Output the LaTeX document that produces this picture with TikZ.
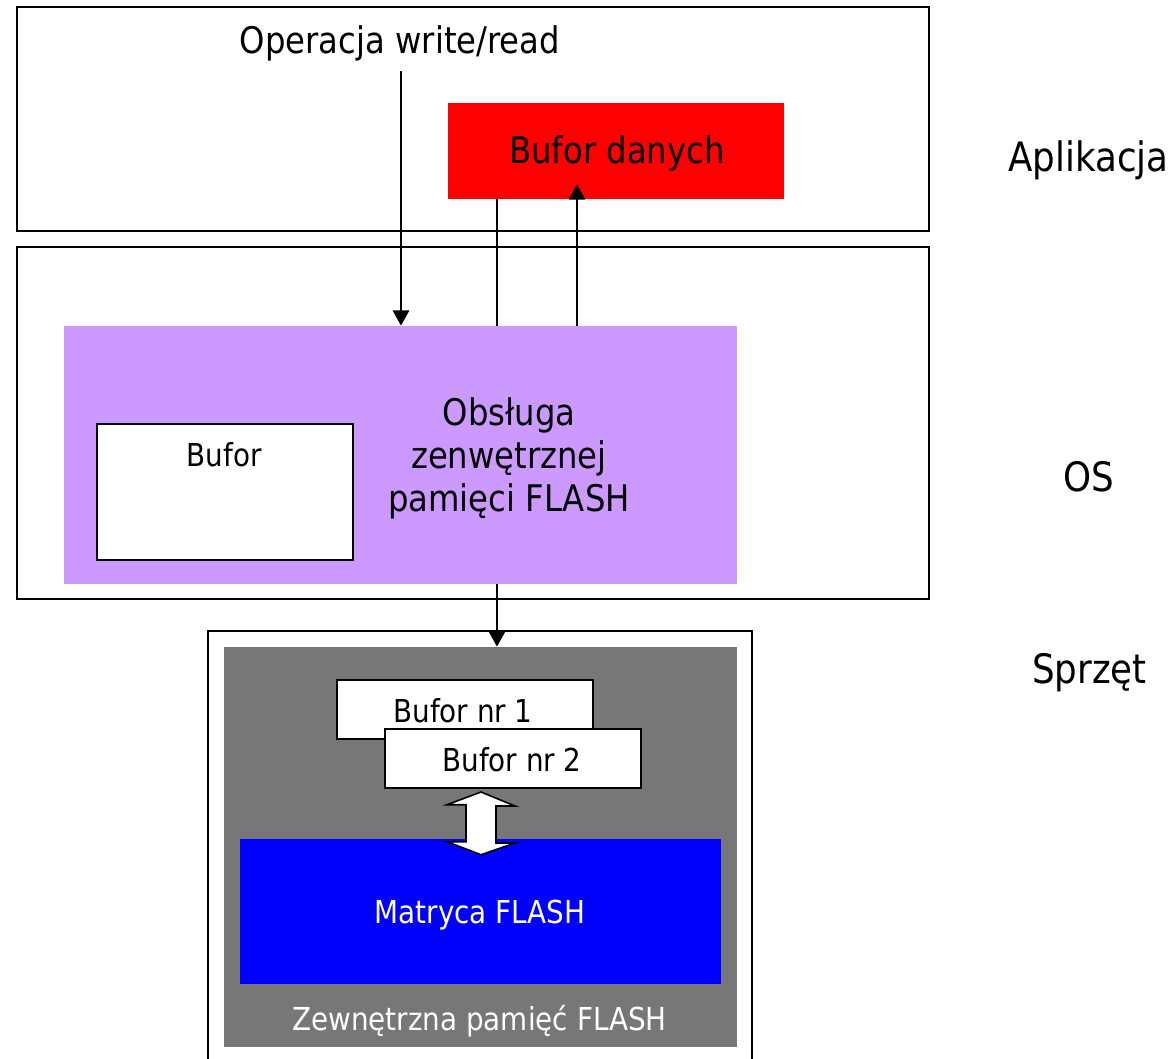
\documentclass[tikz,border=0pt]{standalone}
\usepackage{fontspec}
\setmainfont{DejaVu Sans}[FakeStretch=0.88]
\usetikzlibrary{fit,arrows.meta,calc}
\definecolor{osviolet}{HTML}{CC99FF}
\definecolor{devgray}{HTML}{777777}
\definecolor{appred}{HTML}{FF0000}
\definecolor{flashblue}{HTML}{0000FF}
\tikzset{
  panel/.style={draw=black, line width=1.4pt, inner sep=0pt, fill=white},
  area/.style={inner sep=0pt, draw=none},
  bufbox/.style={draw=black, line width=1.5pt, fill=white, inner sep=0pt},
  lbl/.style={inner sep=0pt, anchor=base, align=center},
  fmain/.style={font=\fontsize{27.5}{31.9}\selectfont},
  fbig/.style={font=\fontsize{30.4}{36}\selectfont},
  fsmall/.style={font=\fontsize{23.7}{28}\selectfont},
  arr/.style={line width=2.2pt, -{Triangle[length=11.5pt,width=12pt]}},
  conn/.style={line width=2.2pt},
  fat/.style={draw=black, line width=1.2pt, fill=white, line join=miter}
}
\begin{document}
\begin{tikzpicture}[x=0.75pt, y=-0.75pt]
\useasboundingbox (0,0) rectangle (1175,1059);

% layer frames
\node[panel, fit={(17,7) (929,231)}] (app) {};
\node[panel, fit={(17,247) (929,599)}] (os) {};
\node[panel, fit={(208,631) (752,1075)}] (hw) {};

% application layer
\node[area, fill=appred, fit={(448,103) (784,199)}] (red) {};
\node[lbl, fmain] (redtxt) at (617,163.5) {Bufor danych};
\node[lbl, fmain] (op) at (400,54) {Operacja write/read};

% operating system layer
\node[area, fill=osviolet, fit={(64,326) (737,584)}] (ops) {};
\node[bufbox, fit={(96.5,423.5) (353,559.5)}] (buf) {};
\node[lbl, fsmall] (buftxt) at (224,466) {Bufor};
\node[lbl, fmain] (opstxt) at (509,511) {Obsługa\\zenwętrznej\\pamięci FLASH};

% hardware layer
\node[area, fill=devgray, fit={(224,647) (737,1047)}] (flash) {};
\node[area, fill=flashblue, fit={(240,839) (721,984)}] (matrix) {};
\node[lbl, fsmall, text=white] (mattxt) at (480,923.5) {Matryca FLASH};
\node[lbl, fsmall, text=white] (flashtxt) at (479.5,1030) {Zewnętrzna pamięć FLASH};
\node[bufbox, fit={(337,680) (593,739)}] (b1) {};
\node[lbl, fsmall] (b1txt) at (463,722) {Bufor nr 1};
\node[bufbox, fit={(384.5,729) (641,788)}] (b2) {};
\node[lbl, fsmall] (b2txt) at (512,771) {Bufor nr 2};

% layer names
\node[lbl, fbig] (lapp) at (1088.5,172) {Aplikacja};
\node[lbl, fbig] (los) at (1088.5,491) {OS};
\node[lbl, fbig] (lhw) at (1089.5,683) {Sprzęt};

% connector columns
\coordinate (wx) at (401,0);
\coordinate (mx) at (497,0);
\coordinate (rx) at (577,0);
\coordinate (dx) at (481,0);

% data flow
\draw[arr, shorten <=7pt] (wx |- op.south) -- (wx |- ops.north);
\draw[conn] (mx |- red.south) -- (mx |- ops.north);
\draw[arr] (rx |- ops.north) -- ([yshift=11.25pt]rx |- red.south);
\draw[arr] (mx |- ops.south) -- (mx |- flash.north);

% two-way transfer between page buffers and the array
\coordinate (dT) at ($(dx |- b2.south)+(0,3)$);
\coordinate (dB) at ($(dx |- matrix.north)+(0,16)$);
\draw[fat] (dT) -- ++(34,14) -- ++(-19,0) -- ++(0,37) -- ++(19,0) -- (dB)
  -- ++(-34,-13) -- ++(19,0) -- ++(0,-37) -- ++(-19,0) -- cycle;
\end{tikzpicture}
\end{document}
